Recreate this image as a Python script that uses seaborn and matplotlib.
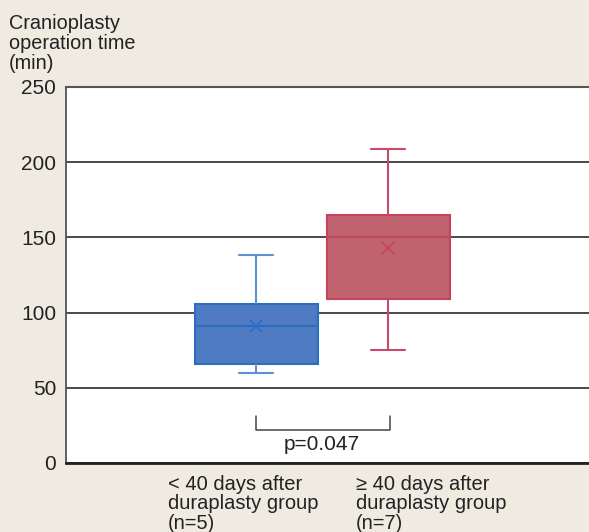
import matplotlib
matplotlib.use("Agg")
import matplotlib.pyplot as plt
import seaborn as sns
import pandas as pd

# Category labels and keys
group_keys = ["lt40", "ge40"]
group_labels = ["< 40 days after\nduraplasty group\n(n=5)",
                "\u2265 40 days after\nduraplasty group\n(n=7)"]
# Five-number summaries: whisker low, Q1, median, Q3, whisker high
lt40_summary = [60, 66, 91, 106, 138]
ge40_summary = [75, 109, 150, 165, 209]
# Means (x markers)
means = [91, 143]
yticks = [0, 50, 100, 150, 200, 250]
p_label = "p=0.047"
title = "Cranioplasty\noperation time\n(min)"

face_colors = ["#4E7BC1", "#C1636E"]
edge_colors = ["#2E6CC2", "#C2445F"]
whisker_colors = ["#5A92D4", "#C9496A"]

sns.set_theme(style="white")
plt.rcParams['font.family'] = ['Liberation Sans', 'DejaVu Sans']

df = pd.DataFrame({
    "group": [group_keys[0]] * len(lt40_summary) + [group_keys[1]] * len(ge40_summary),
    "time": lt40_summary + ge40_summary,
})

fig = plt.figure(figsize=(5.89, 5.32), dpi=100)
fig.patch.set_facecolor("#EFEBE1")
ax = fig.add_axes([66 / 589, 69 / 532, 523 / 589, 376 / 532])
ax.set_facecolor("white")

for i, key in enumerate(group_keys):
    sns.boxplot(data=df[df["group"] == key], x="group", y="time", order=group_keys,
                color=face_colors[i], linecolor=edge_colors[i], saturation=1,
                width=0.93, linewidth=1.5, showfliers=False, capwidths=0.26,
                whiskerprops=dict(color=whisker_colors[i]),
                capprops=dict(color=whisker_colors[i]),
                ax=ax, zorder=3)

sns.pointplot(x=group_keys, y=means, hue=group_keys, order=group_keys,
              palette=edge_colors, markers="x", linestyle="none", errorbar=None,
              legend=False, ax=ax, markersize=9, markeredgewidth=1.2, zorder=4)

ax.set_ylim(0, 250)
ax.set_xlim(-1.44, 2.52)
ax.set_yticks(yticks)
ax.set_xticks([])
ax.set_xlabel("")
ax.set_ylabel("")
ax.yaxis.grid(True, color="#3a3a3a", lw=1.3)
ax.set_axisbelow(True)
ax.tick_params(axis="y", length=0, pad=7, labelsize=15, labelcolor="#222222")

ax.spines["right"].set_visible(False)
ax.spines["left"].set_color("#555555")
ax.spines["left"].set_linewidth(1.3)
ax.spines["top"].set_color("#555555")
ax.spines["top"].set_linewidth(1.5)
ax.spines["bottom"].set_color("#222222")
ax.spines["bottom"].set_linewidth(2)

# significance bracket
ax.plot([0, 0, 1.01, 1.01], [31, 22, 22, 31], color="#444444", lw=1.1, zorder=2)
ax.text(0.5, 8.6, p_label, ha="center", va="baseline", fontsize=15, color="#222222")

fig.text(9 / 589, 1 - 14 / 532, title, ha="left", va="top", fontsize=14.3,
         linespacing=1.08, color="#222222")
fig.text(168 / 589, 1 - 475 / 532, group_labels[0], ha="left", va="top",
         fontsize=14.5, linespacing=1.03, color="#222222")
fig.text(356 / 589, 1 - 475 / 532, group_labels[1], ha="left", va="top",
         fontsize=14.5, linespacing=1.03, color="#222222")

fig.savefig("out.png", dpi=100, facecolor=fig.get_facecolor())
